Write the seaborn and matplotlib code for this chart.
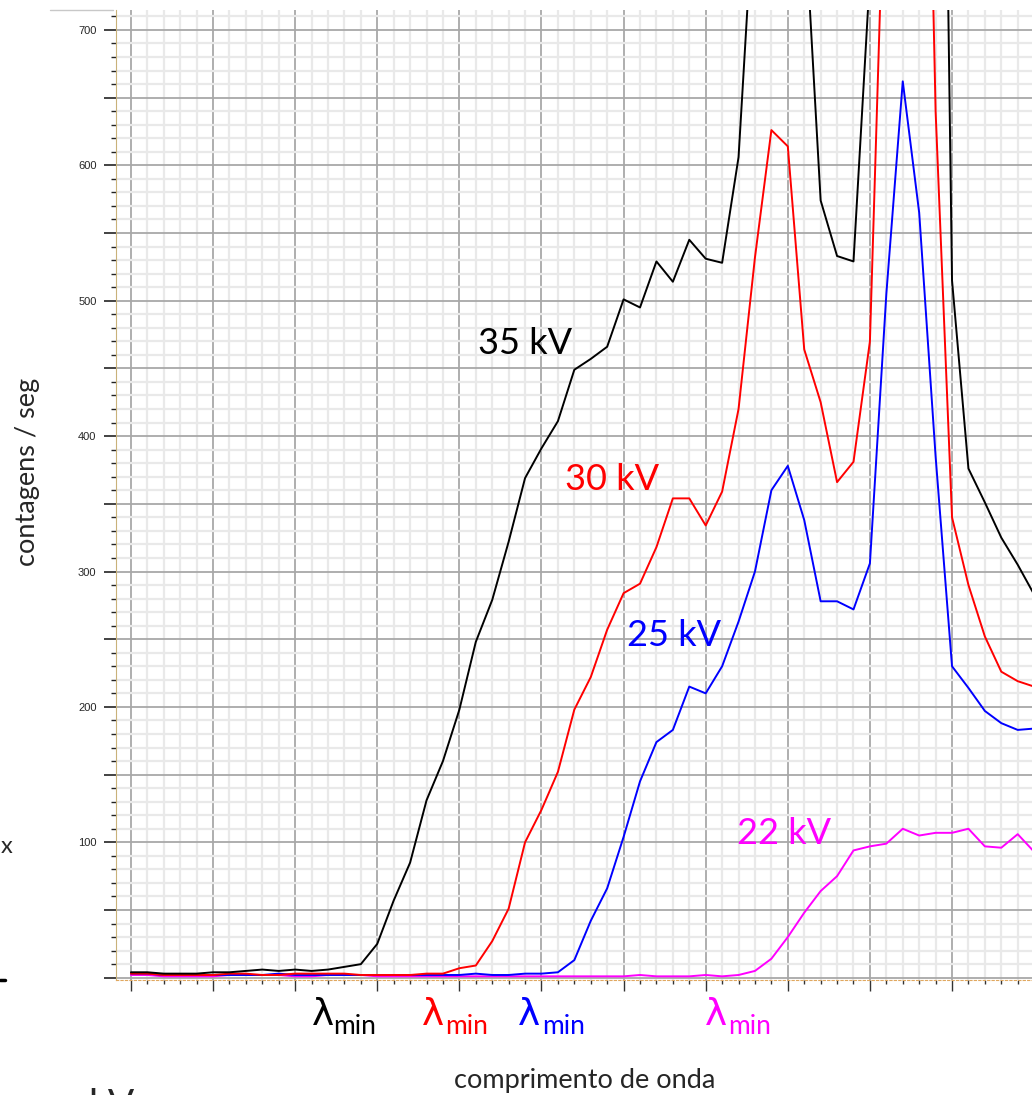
import numpy as np
import pandas as pd
import matplotlib
matplotlib.use("Agg")
import matplotlib.pyplot as plt
import seaborn as sns
from matplotlib.ticker import MultipleLocator, FuncFormatter
from matplotlib.lines import Line2D

# channel index along the wavelength axis (one sample per minor grid step)
channel = list(range(56))

# counts per second for each tube voltage (values above the top are clipped peaks)
counts_35kv = [4, 4, 3, 3, 3, 4, 4, 5, 6, 5, 6, 5, 6, 8, 10, 25, 57, 85, 131, 160,
               198, 248, 279, 322, 369, 391, 411, 449, 457, 466, 501, 495, 529, 514, 545, 531,
               528, 606, 810, 1050, 1150, 790, 574, 533, 529, 740, 2000, 3000, 2500, 1400,
               515, 376, 351, 325, 305, 283]
counts_30kv = [3, 3, 2, 2, 2, 2, 3, 3, 2, 2, 3, 3, 3, 3, 2, 2, 2, 2, 3, 3,
               7, 9, 27, 51, 100, 124, 152, 198, 222, 257, 284, 291, 318, 354, 354, 334,
               359, 420, 532, 626, 614, 464, 425, 366, 381, 470, 870, 1500, 1200, 640,
               340, 290, 252, 226, 219, 215]
counts_25kv = [3, 3, 2, 2, 2, 2, 2, 2, 2, 3, 2, 2, 2, 2, 2, 2, 2, 2, 2, 2,
               2, 3, 2, 2, 3, 3, 4, 13, 42, 66, 104, 145, 174, 183, 215, 210,
               230, 263, 300, 360, 378, 338, 278, 278, 272, 306, 505, 662, 565, 385,
               230, 214, 197, 188, 183, 184]
counts_22kv = [2, 2, 1, 1, 1, 1, 2, 2, 2, 2, 1, 1, 2, 2, 2, 1, 1, 1, 1, 1,
               1, 1, 1, 1, 1, 1, 1, 1, 1, 1, 1, 2, 1, 1, 1, 2,
               1, 2, 5, 14, 30, 48, 64, 75, 94, 97, 99, 110, 105, 107,
               107, 110, 97, 96, 106, 93]

series_labels = ["35 kV", "30 kV", "25 kV", "22 kV"]
series_colors = ["#000000", "#ff0000", "#0000ff", "#ff00ff"]

df = pd.DataFrame({
    "canal": channel * 4,
    "contagens": counts_35kv + counts_30kv + counts_25kv + counts_22kv,
    "tensao": [lab for lab in series_labels for _ in channel],
})

sns.set_style("white")
plt.rcParams["font.family"] = ["Lato", "DejaVu Sans"]

W, H = 1032, 1095
fig = plt.figure(figsize=(W / 100, H / 100), dpi=100)
ax = fig.add_axes([116 / W, 1 - 980 / H, 1 - 116 / W, (980 - 10) / H])

sns.lineplot(data=df, x="canal", y="contagens", hue="tensao",
             palette=dict(zip(series_labels, series_colors)),
             hue_order=series_labels[::-1], linewidth=1.4, legend=False, ax=ax)

ax.set_xlim(-0.91, 54.87)
ax.set_ylim(-1.7, 714.7)

ax.xaxis.set_major_locator(MultipleLocator(5))
ax.xaxis.set_minor_locator(MultipleLocator(1))
ax.yaxis.set_major_locator(MultipleLocator(50))
ax.yaxis.set_minor_locator(MultipleLocator(10))
ax.yaxis.set_major_formatter(FuncFormatter(
    lambda v, p: f"{int(round(v))}" if v > 0 and round(v) % 100 == 0 else ""))

ax.set_axisbelow(True)
ax.grid(which="minor", color="#e9e9e9", linewidth=1.6)
ax.grid(which="major", color="#a8a8a8", linewidth=1.3)

ax.tick_params(axis="x", which="major", direction="out", length=8, width=1,
               color="#333333", labelbottom=False, bottom=True)
ax.tick_params(axis="x", which="minor", direction="out", length=3, width=1,
               color="#333333", bottom=True)
ax.tick_params(axis="y", which="major", direction="out", length=9, width=1.2,
               color="#222222", labelsize=8, pad=5, left=True)
ax.tick_params(axis="y", which="minor", direction="out", length=3.5, width=1,
               color="#222222", left=True)
for lab in ax.get_yticklabels():
    lab.set_family(["Liberation Sans", "DejaVu Sans"])

for side in ["top", "right"]:
    ax.spines[side].set_visible(False)
ax.spines["left"].set_color("#c9b27a")
ax.spines["left"].set_linewidth(0.8)
ax.spines["bottom"].set_color("#e0a860")
ax.spines["bottom"].set_linewidth(0.8)
ax.spines["bottom"].set_linestyle((0, (2, 2)))

ax.set_xlabel("")
ax.set_ylabel("")

# voltage labels next to the curves
label_pos = [(21.13, 460.6), (26.43, 360.2), (30.18, 245.0), (36.89, 98.7)]
for (lx, ly), lab, col in zip(label_pos, series_labels, series_colors):
    ax.text(lx, ly, lab, color=col, fontsize=26, ha="left", va="baseline")

# lambda_min markers under the axis (pixel positions of the slide)
lam_px = [(311.7, 333.3), (421.7, 445.0), (518.3, 541.7), (705.0, 728.3)]
for (lpx, mpx), col in zip(lam_px, series_colors):
    fig.text(lpx / W, 1 - 1025 / H, "λ", color=col, fontsize=27,
             family="DejaVu Sans", ha="left", va="baseline")
    fig.text(mpx / W, 1 - 1034 / H, "min", color=col, fontsize=19,
             ha="left", va="baseline")

fig.text(585 / W, 1 - 1088 / H, "comprimento de onda", fontsize=19.5,
         ha="center", va="baseline")
fig.text(28 / W, 1 - 472 / H, "contagens / seg", fontsize=19.5, rotation=90,
         ha="center", va="center")

# leftover fragments of the slide around the chart
fig.text(1 / W, 1 - 853 / H, "x", fontsize=17, ha="left", va="baseline")
fig.text(88 / W, 1 - 1117 / H, "kV", fontsize=28, ha="left", va="baseline")
fig.add_artist(Line2D([0, 5 / W], [1 - 980 / H] * 2, color="black", lw=2.5))
fig.add_artist(Line2D([50 / W, 113 / W], [1 - 10 / H] * 2, color="#c8c8c8", lw=1))

fig.savefig("out.png", dpi=100)
